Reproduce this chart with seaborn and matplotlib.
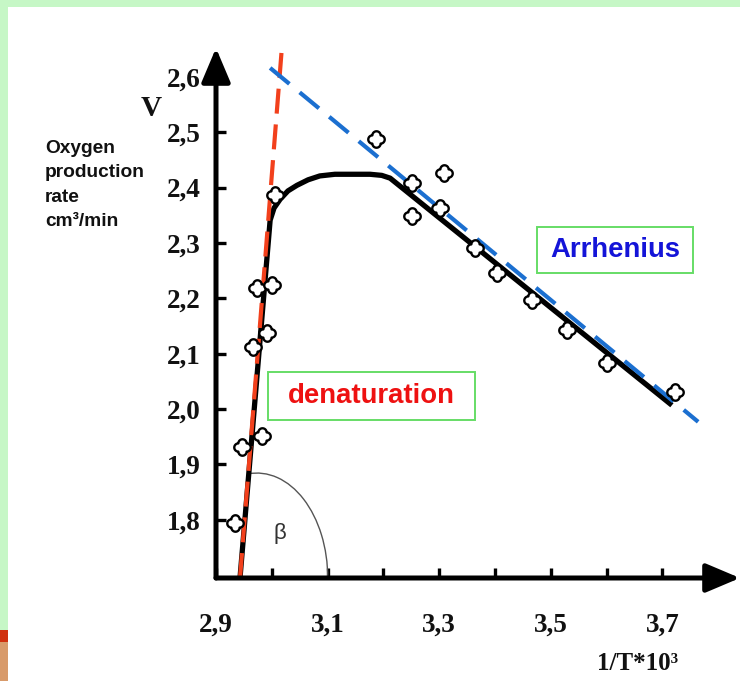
import numpy as np
import pandas as pd
import matplotlib
matplotlib.use('Agg')
from matplotlib import pyplot as plt
from matplotlib.patches import Rectangle, Arc
from matplotlib.path import Path
import seaborn as sns

# measured points (1/T*10^3, rate)
pts_x = [2.934, 2.947, 2.982, 2.966, 2.991, 2.973, 3.000, 3.006,
         3.187, 3.251, 3.251, 3.309, 3.301, 3.364, 3.404, 3.466, 3.529, 3.601, 3.723]
pts_y = [1.794, 1.931, 1.951, 2.112, 2.137, 2.218, 2.224, 2.386,
         2.487, 2.408, 2.348, 2.426, 2.363, 2.291, 2.245, 2.197, 2.143, 2.083, 2.031]

# black fitted curve
curve_x = [2.943, 2.997, 3.004, 3.015, 3.029, 3.045, 3.065, 3.086, 3.113, 3.176, 3.197, 3.212, 3.717]
curve_y = [1.695, 2.341, 2.363, 2.379, 2.394, 2.404, 2.414, 2.421, 2.424, 2.424, 2.422, 2.417, 2.007]

# dashed lines
denat_x = [2.943, 3.018]
denat_y = [1.695, 2.652]
arrh_x = [2.997, 3.764]
arrh_y = [2.616, 1.977]

y_ticks = [1.8, 1.9, 2.0, 2.1, 2.2, 2.3, 2.4, 2.5, 2.6]
y_labels = ['1,8', '1,9', '2,0', '2,1', '2,2', '2,3', '2,4', '2,5', '2,6']
x_ticks = [2.9, 3.1, 3.3, 3.5, 3.7]
x_labels = ['2,9', '3,1', '3,3', '3,5', '3,7']
x_minor = [3.0, 3.2, 3.4, 3.6]

sns.set_style('white')
plt.rcParams['font.family'] = ['Liberation Sans', 'DejaVu Sans']

# marker: outline of four small circles around the centre
t = np.linspace(0, 2 * np.pi, 160)
d, R = 0.5, 0.5
rs = []
for phi in [0, np.pi / 2, np.pi, 3 * np.pi / 2]:
    dt = t - phi
    disc = R ** 2 - (d * np.sin(dt)) ** 2
    rr = np.where((disc >= 0) & (np.cos(dt) > 0), d * np.cos(dt) + np.sqrt(np.clip(disc, 0, None)), 0)
    rs.append(rr)
r = np.max(rs, axis=0)
clover = Path(np.column_stack([r * np.cos(t), r * np.sin(t)]), closed=True)

W, H = 740, 681
fig = plt.figure(figsize=(7.4, 6.81), dpi=100)
fig.patch.set_facecolor('white')

# slide frame
green = '#c6f7c6'
fig.add_artist(Rectangle((0, 1 - 7 / H), 1, 7 / H, transform=fig.transFigure, color=green, lw=0))
fig.add_artist(Rectangle((0, 51 / H), 8 / W, 1, transform=fig.transFigure, color=green, lw=0))
fig.add_artist(Rectangle((0, 39 / H), 8 / W, 12 / H, transform=fig.transFigure, color='#d0300e', lw=0))
fig.add_artist(Rectangle((0, 0), 8 / W, 39 / H, transform=fig.transFigure, color='#d89a6a', lw=0))

ax = fig.add_axes([216 / W, 1 - 578 / H, (740 - 216) / W, (578 - 48) / H])
ax.set_xlim(2.9, 3.839)
ax.set_ylim(1.695, 2.652)
ax.patch.set_alpha(0)
for s in ax.spines.values():
    s.set_visible(False)

sns.lineplot(x=curve_x, y=curve_y, sort=False, estimator=None, color='black', lw=3.8, ax=ax, zorder=2)
sns.lineplot(x=denat_x, y=denat_y, sort=False, estimator=None, color='#f2401c', lw=3,
             linestyle=(0, (6, 2.6)), ax=ax, zorder=3)
sns.lineplot(x=arrh_x, y=arrh_y, sort=False, estimator=None, color='#1b6fd0', lw=3,
             linestyle=(0, (6, 3.2)), ax=ax, zorder=3)
for ln in ax.lines:
    ln.set_clip_on(False)
    ln.set_solid_capstyle('butt')
sns.scatterplot(x=pts_x, y=pts_y, marker=clover, s=140, color='white', edgecolor='black',
                linewidth=1.7, ax=ax, zorder=5, clip_on=False)

# angle beta
ax.add_patch(Arc((2.973, 1.695), 0.2545, 0.379, theta1=0, theta2=95, color='#555555', lw=1))
ax.text(3.015, 1.775, 'β', fontsize=16, color='#333333', ha='center', va='center')

# axes with arrows
arrow = dict(arrowstyle='-|>,head_length=1.3,head_width=0.55', lw=3.6, color='black',
             shrinkA=0, shrinkB=0, mutation_scale=16)
ax.annotate('', xy=(0, 1), xytext=(0, 0), xycoords='axes fraction', arrowprops=arrow)
ax.annotate('', xy=(1, 0), xytext=(0, 0), xycoords='axes fraction', arrowprops=arrow)

ax.set_yticks(y_ticks)
ax.set_yticklabels(y_labels)
ax.set_xticks(x_ticks)
ax.set_xticklabels(x_labels)
ax.set_xticks(x_minor, minor=True)
ax.tick_params(axis='both', which='both', direction='in', length=7, width=2.4, color='black',
               left=True, bottom=True)
ax.tick_params(axis='x', which='major', pad=25)
ax.tick_params(axis='y', pad=11)
for lab in ax.get_xticklabels() + ax.get_yticklabels():
    lab.set_fontfamily('Liberation Serif')
    lab.set_fontweight('bold')
    lab.set_fontsize(19.5)
    lab.set_color('#111111')

# labels
fig.text(151 / W, 1 - 108 / H, 'V', family='Liberation Serif', weight='bold', fontsize=21,
         ha='center', va='center', color='#111111')
fig.text(45 / W, 1 - 185 / H, 'Oxygen\nproduction\nrate\ncm³/min', fontsize=13.8, weight='bold',
         ha='left', va='center', linespacing=1.55, color='#111111')
fig.text(638 / W, 1 - 663 / H, '1/T*10³', family='Liberation Serif', weight='bold', fontsize=18,
         ha='center', va='center', color='#111111')

# boxed annotations
fig.add_artist(Rectangle((268 / W, 1 - 420 / H), 207 / W, 48 / H, transform=fig.transFigure,
                         fill=False, edgecolor='#66dd66', lw=1.4))
fig.text(371.5 / W, 1 - 396 / H, 'denaturation', fontsize=19.8, weight='bold', color='#ee1111',
         ha='center', va='center')
fig.add_artist(Rectangle((537 / W, 1 - 273 / H), 156 / W, 46 / H, transform=fig.transFigure,
                         fill=False, edgecolor='#66dd66', lw=1.4))
fig.text(615 / W, 1 - 250 / H, 'Arrhenius', fontsize=19.8, weight='bold', color='#1414d8',
         ha='center', va='center')

plt.savefig('out.png', dpi=100)
